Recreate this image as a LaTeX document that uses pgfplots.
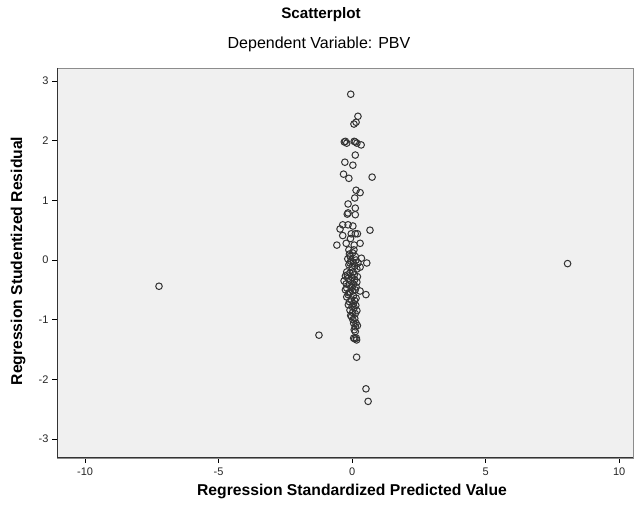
\documentclass[border=0pt]{standalone}
\usepackage{fontspec}
\setmainfont{Liberation Sans}
\usepackage{pgfplots}
\pgfplotsset{compat=1.18}
\definecolor{plotbg}{HTML}{F0F0F0}
\definecolor{framegray}{HTML}{8C8C8C}
\begin{document}
\begin{tikzpicture}
\useasboundingbox (0,0) rectangle (637pt,508pt);
\begin{axis}[
    at={(57pt,50pt)}, anchor=south west,
    scale only axis,
    width=576pt, height=390pt,
    xmin=-11.05, xmax=10.52,
    ymin=-3.32, ymax=3.22,
    xtick={-10,-5,0,5,10},
    ytick={-3,-2,-1,0,1,2,3},
    tick align=outside,
    xtick pos=left, ytick pos=left,
    major tick length=5pt,
    tick style={black, line width=0.6pt},
    axis background/.style={fill=plotbg},
    axis line style={framegray, line width=0.8pt},
    /pgf/number format/assume math mode=true,
    ticklabel style={font=\fontsize{11}{12}\selectfont, text=black!85},
    xticklabel style={yshift=-1pt},
    clip=false
    ]
% left and bottom axis lines drawn darker, like SPSS
\draw[black!80, line width=1pt] (rel axis cs:0,1) -- (rel axis cs:0,0) -- (rel axis cs:1,0);
\addplot [
    only marks,
    mark=o,
    mark size=3.3pt,
    mark options={draw=black!80, line width=1pt, fill=none}
    ] coordinates {
    (-0.05,2.78) (0.22,2.41) (0.15,2.31) (0.07,2.28)
    (-0.29,1.98) (-0.20,1.96) (-0.25,1.99) (0.12,1.98) (0.18,1.96) (0.08,1.99) (0.34,1.93)
    (0.12,1.76) (-0.27,1.64) (0.03,1.59) (-0.32,1.44) (-0.12,1.37) (0.75,1.39)
    (0.15,1.17) (0.30,1.13) (0.10,1.04) (-0.15,0.94) (0.12,0.87) (-0.15,0.79)
    (0.12,0.76) (-0.18,0.77) (-0.35,0.59) (-0.15,0.59) (0.03,0.57) (-0.45,0.52)
    (0.67,0.50) (-0.35,0.41) (-0.03,0.44) (0.12,0.44) (0.20,0.44)
    (-0.57,0.25) (-0.22,0.28) (0.30,0.28) (-0.12,0.17) (0.07,0.17)
    (-0.07,0.06) (0.12,0.06) (0.35,0.03) (0.55,-0.05)
    (-0.10,0.10) (0.02,0.12) (0.15,0.00) (-0.05,-0.02) (0.05,-0.05) (-0.12,-0.08)
    (0.10,-0.10) (0.00,-0.12) (-0.20,-0.20) (-0.08,-0.22) (0.04,-0.20) (0.18,-0.15)
    (0.30,-0.12) (-0.25,-0.27) (-0.15,-0.31) (0.00,-0.29) (0.10,-0.33) (0.18,-0.37)
    (-0.30,-0.35) (0.05,-0.40) (-0.10,-0.42) (0.15,-0.45) (-0.20,-0.47) (0.00,-0.46)
    (-0.25,-0.50) (-0.07,-0.54) (0.12,-0.50) (0.30,-0.52) (0.52,-0.58) (-0.15,-0.58)
    (0.05,-0.60) (-0.20,-0.62) (-0.03,-0.67) (0.15,-0.64) (0.05,-0.73) (-0.10,-0.70)
    (0.00,-0.78) (-0.08,-0.84) (0.18,-0.85) (0.08,-0.80) (0.12,-0.90) (-0.05,-0.93)
    (0.02,-0.88) (0.03,-1.00) (0.06,-1.06) (0.15,-1.06) (0.12,-1.12) (0.08,-1.17)
    (0.20,-1.10) (0.06,-1.31) (0.16,-1.31) (0.12,-1.20) (0.10,-1.32) (0.17,-1.34)
    (-0.18,-0.25) (-0.05,-0.35) (0.08,-0.25) (-0.22,-0.40) (0.20,-0.28) (-0.12,-0.55)
    (0.02,-0.52) (0.10,-0.68) (-0.14,-0.75) (0.14,-0.76) (-0.02,-0.95) (0.10,-0.98)
    (-0.08,-0.05) (0.22,-0.05) (-0.16,0.02) (0.08,0.25) (-0.06,0.36)
    (0.17,-1.63) (0.52,-2.16) (0.60,-2.37)
    (-1.24,-1.26) (-7.23,-0.44) (8.07,-0.06)
    };
\end{axis}
\node[font=\bfseries\fontsize{15.2}{17}\selectfont] at (321pt,493pt) {Scatterplot};
\node[font=\fontsize{16}{18}\selectfont] at (319pt,464pt) {Dependent Variable: PBV};
\node[font=\bfseries\fontsize{15.7}{18}\selectfont] at (352pt,17pt) {Regression Standardized Predicted Value};
\node[font=\bfseries\fontsize{15.7}{18}\selectfont, rotate=90] at (18pt,247pt) {Regression Studentized Residual};
\end{tikzpicture}
\end{document}
